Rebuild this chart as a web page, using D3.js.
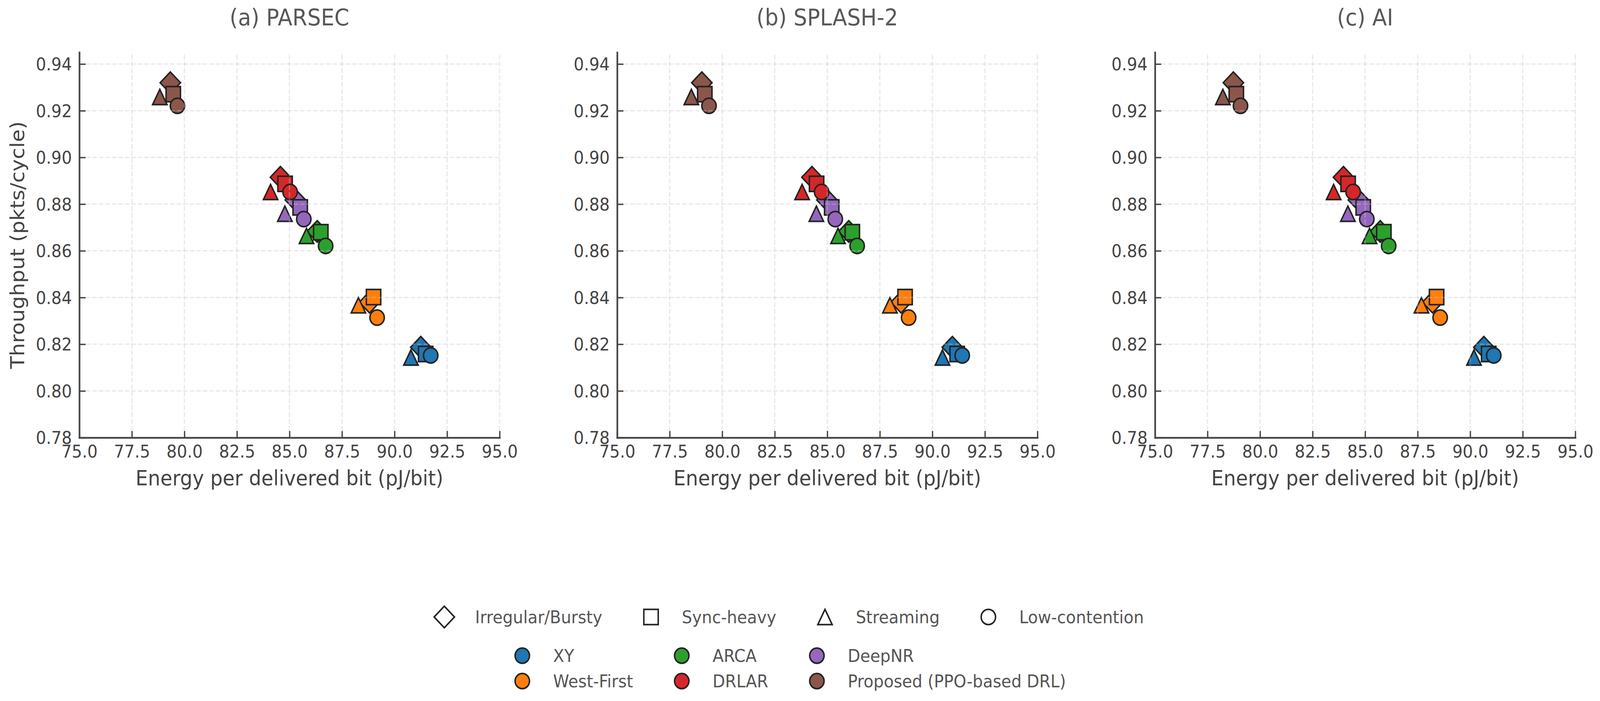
<!DOCTYPE html>
<html lang="en">
<head>
<meta charset="utf-8">
<title>Energy vs throughput</title>
<script src="https://cdn.jsdelivr.net/npm/d3@7"></script>
<style>
  html, body { margin: 0; padding: 0; width: 100%; height: 100%; overflow: hidden; background: #fff; }
  #chart { display: block; width: 100vw; height: 100vh; }
  text { font-family: "DejaVu Sans", sans-serif; }
</style>
</head>
<body>
<svg id="chart"></svg>
<script>
  const panelTitles = ['(a) PARSEC', '(b) SPLASH-2', '(c) AI'];
  const methods = ['XY', 'West-First', 'ARCA', 'DRLAR', 'DeepNR', 'Proposed (PPO-based DRL)'];
  const methodColors = ['#1f77b4', '#ff7f0e', '#2ca02c', '#d62728', '#9467bd', '#8c564b'];
  const workloads = ['Irregular/Bursty', 'Sync-heavy', 'Streaming', 'Low-contention'];
  const workloadShapes = ['diamond', 'square', 'triangle', 'circle'];
  const xTicks = [75, 77.5, 80, 82.5, 85, 87.5, 90, 92.5, 95];
  const yTicks = [0.78, 0.80, 0.82, 0.84, 0.86, 0.88, 0.90, 0.92, 0.94];

  // throughput per method, columns follow workloads
  const throughput = [
    [0.8187, 0.8158, 0.8143, 0.8152],
    [0.8380, 0.8402, 0.8367, 0.8314],
    [0.8683, 0.8680, 0.8664, 0.8621],
    [0.8915, 0.8887, 0.8852, 0.8852],
    [0.8818, 0.8786, 0.8759, 0.8736],
    [0.9320, 0.9271, 0.9259, 0.9221]
  ];

  // energy per delivered bit per method, one array per suite
  const energyParsec = [
    [91.25, 91.48, 90.78, 91.72],
    [88.81, 89.00, 88.28, 89.17],
    [86.32, 86.49, 85.81, 86.72],
    [84.57, 84.79, 84.10, 85.03],
    [85.28, 85.51, 84.78, 85.68],
    [79.33, 79.47, 78.83, 79.67]
  ];
  const energySplash = [
    [90.95, 91.18, 90.48, 91.42],
    [88.51, 88.70, 87.98, 88.87],
    [86.02, 86.19, 85.51, 86.42],
    [84.27, 84.49, 83.80, 84.73],
    [84.98, 85.21, 84.48, 85.38],
    [79.03, 79.17, 78.53, 79.37]
  ];
  const energyAI = [
    [90.65, 90.88, 90.18, 91.12],
    [88.21, 88.40, 87.68, 88.57],
    [85.72, 85.89, 85.21, 86.12],
    [83.97, 84.19, 83.50, 84.43],
    [84.68, 84.91, 84.18, 85.08],
    [78.73, 78.87, 78.23, 79.07]
  ];
  const energyBySuite = [energyParsec, energySplash, energyAI];

  const width = 4336;
  const height = 1794;
  const panelLefts = [215, 1672.5, 3130];
  const panelWidth = 1139;
  const plotTop = 134;
  const plotBottom = 1120;
  const markerSize = 39;
  const ink = '#444444';

  // drawn in a fixed 4336x1794 frame, scaled to whatever the window is
  const svg = d3.select('#chart')
    .attr('viewBox', `0 0 ${width} ${height}`)
    .attr('preserveAspectRatio', 'none');

  svg.append('rect').attr('width', width).attr('height', height).attr('fill', '#fff');

  function markerPath(shape, s) {
    const h = s / 2;
    if (shape === 'circle') return d3.symbol(d3.symbolCircle, Math.PI * h * h)();
    if (shape === 'square') return `M${-h},${-h}H${h}V${h}H${-h}Z`;
    if (shape === 'diamond') {
      const r = h * Math.SQRT2;
      return `M0,${-r}L${r},0L0,${r}L${-r},0Z`;
    }
    return `M0,${-h}L${h},${h}L${-h},${h}Z`;
  }

  const y = d3.scaleLinear().domain([0.78, 0.945]).range([plotBottom, plotTop]);

  panelTitles.forEach((title, p) => {
    const left = panelLefts[p];
    const x = d3.scaleLinear().domain([75, 95]).range([left, left + panelWidth]);
    const energy = energyBySuite[p];
    const g = svg.append('g').attr('class', 'panel');

    // points: workloads outer, methods inner (matches stacking in the figure)
    const pts = [];
    workloads.forEach((w, wi) => {
      methods.forEach((m, mi) => {
        pts.push({ e: energy[mi][wi], t: throughput[mi][wi], shape: workloadShapes[wi], colour: methodColors[mi] });
      });
    });

    g.append('g').selectAll('path.pt')
      .data(pts)
      .enter()
      .append('path')
      .attr('class', 'pt')
      .attr('transform', d => `translate(${x(d.e)},${y(d.t)})`)
      .attr('d', d => markerPath(d.shape, markerSize))
      .attr('fill', d => d.colour)
      .attr('stroke', '#222')
      .attr('stroke-width', 4)
      .attr('stroke-linejoin', 'miter');

    // grid sits above the markers, semi transparent
    const grid = g.append('g')
      .attr('stroke', '#c8c8c8')
      .attr('stroke-opacity', 0.4)
      .attr('stroke-width', 3.3)
      .attr('stroke-dasharray', '12.3,5.3');
    grid.selectAll('line.vx')
      .data(xTicks)
      .enter()
      .append('line')
      .attr('x1', d => x(d)).attr('x2', d => x(d))
      .attr('y1', y(0.78)).attr('y2', y(0.945));
    grid.selectAll('line.hy')
      .data(yTicks)
      .enter()
      .append('line')
      .attr('x1', x(75)).attr('x2', x(95))
      .attr('y1', d => y(d)).attr('y2', d => y(d));

    const xAxis = d3.axisBottom(x)
      .tickValues(xTicks)
      .tickFormat(d3.format('.1f'))
      .tickSizeInner(-17)
      .tickSizeOuter(0)
      .tickPadding(20);
    const yAxis = d3.axisLeft(y)
      .tickValues(yTicks)
      .tickFormat(d3.format('.2f'))
      .tickSizeInner(-17)
      .tickSizeOuter(0)
      .tickPadding(20);

    [[xAxis, `translate(0,${plotBottom})`], [yAxis, `translate(${left},0)`]].forEach(([ax, tr]) => {
      const a = g.append('g')
        .attr('transform', tr)
        .call(ax)
        .attr('font-family', '"DejaVu Sans", sans-serif')
        .attr('font-size', 44);
      a.select('.domain')
        .attr('stroke', ink)
        .attr('stroke-width', 4.5)
        .attr('stroke-linecap', 'square');
      a.selectAll('.tick line').attr('stroke', ink).attr('stroke-width', 3.5);
      a.selectAll('.tick text').attr('fill', ink);
    });
    g.selectAll('.tick text').filter(function () { return this.getAttribute('x') !== null && +this.getAttribute('x') < 0; })
      .attr('dy', '0.36em');

    g.append('text')
      .attr('x', left + panelWidth / 2)
      .attr('y', 1242)
      .attr('text-anchor', 'middle')
      .attr('font-size', 53)
      .attr('fill', ink)
      .text('Energy per delivered bit (pJ/bit)');

    g.append('text')
      .attr('x', left + panelWidth / 2)
      .attr('y', 65)
      .attr('text-anchor', 'middle')
      .attr('font-size', 58)
      .attr('fill', '#585858')
      .text(title);

    if (p === 0) {
      g.append('text')
        .attr('transform', `translate(66,${(plotTop + plotBottom) / 2}) rotate(-90)`)
        .attr('text-anchor', 'middle')
        .attr('font-size', 53)
        .attr('fill', ink)
        .text('Throughput (pkts/cycle)');
    }
  });

  // legends, laid out like matplotlib (column-major, centred)
  function drawLegend(items, ncol, firstRowY, rowStep, centreX) {
    const fs = 44;
    const handleLen = 2 * fs;
    const textPad = 0.9 * fs;
    const colGap = 2 * fs;
    const nrows = Math.ceil(items.length / ncol);
    const lg = svg.append('g').attr('class', 'legend');
    const texts = items.map(it => lg.append('text')
      .attr('font-size', fs)
      .attr('fill', '#555')
      .text(it.label));
    const widths = texts.map(t => t.node().getComputedTextLength());
    const colW = d3.range(ncol).map(c => {
      const idx = d3.range(c * nrows, Math.min((c + 1) * nrows, items.length));
      return handleLen + textPad + d3.max(idx, i => widths[i]);
    });
    const total = d3.sum(colW) + colGap * (ncol - 1);
    let colX = centreX - total / 2;
    const colStarts = colW.map(w => { const s = colX; colX += w + colGap; return s; });
    items.forEach((it, i) => {
      const c = Math.floor(i / nrows);
      const r = i % nrows;
      const cy = firstRowY + r * rowStep;
      const cx = colStarts[c] + handleLen / 2;
      lg.append('path')
        .attr('transform', `translate(${cx},${cy})`)
        .attr('d', markerPath(it.shape, markerSize))
        .attr('fill', it.fill)
        .attr('stroke', '#222')
        .attr('stroke-width', 4);
      texts[i]
        .attr('x', colStarts[c] + handleLen + textPad)
        .attr('y', cy)
        .attr('dy', '0.36em');
    });
  }

  drawLegend(workloads.map((w, i) => ({ label: w, shape: workloadShapes[i], fill: '#fff' })), 4, 1579, 65, 2130);
  drawLegend(methods.map((m, i) => ({ label: m, shape: 'circle', fill: methodColors[i] })), 3, 1678, 65, 2130);
</script>
</body>
</html>
